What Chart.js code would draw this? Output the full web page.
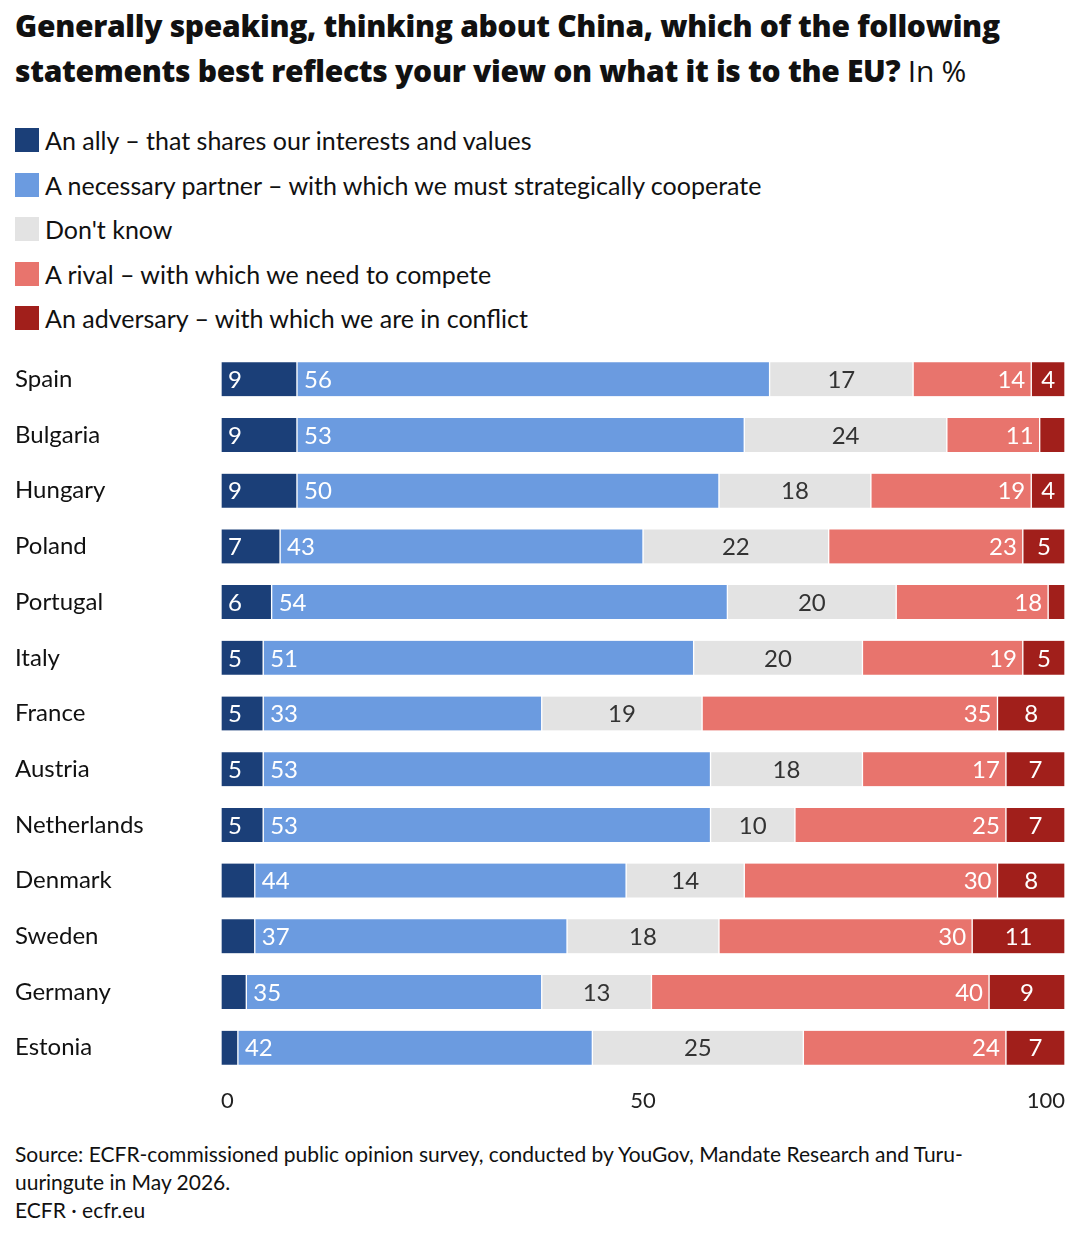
<!DOCTYPE html>
<html>
<head>
<meta charset="utf-8">
<script src="https://cdn.jsdelivr.net/npm/chart.js@4"></script>
<style>
  body { margin: 0; background: #fff; font-family: Lato, "Open Sans", sans-serif; color: #111; }
  .wrap { width: 1080px; height: 1247px; position: relative; }
  h1 { margin: 0; position: absolute; left: 15px; top: 3px; width: 1060px; font-family: "Open Sans", sans-serif; font-weight: 800; font-size: 30px; line-height: 45px; letter-spacing: -0.3px; }
  h1 span { font-weight: 400; }
  .legend { position: absolute; left: 15px; top: 118px; }
  .legend div { height: 44.5px; display: flex; align-items: center; font-size: 25px; }
  .legend i { display: inline-block; width: 24px; height: 24px; margin-right: 6px; }
  .chart { position: absolute; left: 0; top: 334px; width: 1080px; height: 792px; }
  .src { position: absolute; left: 15px; top: 1140px; font-size: 21px; line-height: 28px; width: 1000px; }
</style>
</head>
<body>
<div class="wrap">
  <h1>Generally speaking, thinking about China, which of the following statements best reflects your view on what it is to the EU? <span>In %</span></h1>
  <div class="legend" id="legend"></div>
  <div class="chart"><canvas id="c"></canvas></div>
  <div class="src">Source: ECFR-commissioned public opinion survey, conducted by YouGov, Mandate Research and Turu-uuringute in May 2026.<br>ECFR · ecfr.eu</div>
</div>
<script>
const countries = ['Spain', 'Bulgaria', 'Hungary', 'Poland', 'Portugal', 'Italy', 'France', 'Austria', 'Netherlands', 'Denmark', 'Sweden', 'Germany', 'Estonia'];
const ally = [9, 9, 9, 7, 6, 5, 5, 5, 5, 4, 4, 3, 2];
const partner = [56, 53, 50, 43, 54, 51, 33, 53, 53, 44, 37, 35, 42];
const dontKnow = [17, 24, 18, 22, 20, 20, 19, 18, 10, 14, 18, 13, 25];
const rival = [14, 11, 19, 23, 18, 19, 35, 17, 25, 30, 30, 40, 24];
const adversary = [4, 3, 4, 5, 2, 5, 8, 7, 7, 8, 11, 9, 7];
const xTicks = [0, 50, 100];

const seriesNames = ['An ally – that shares our interests and values', 'A necessary partner – with which we must strategically cooperate', "Don't know", 'A rival – with which we need to compete', 'An adversary – with which we are in conflict'];
const seriesColors = ['#1b3f78', '#6b9be0', '#e3e3e3', '#e8746d', '#a11f1b'];
const labelColors = ['#fff', '#fff', '#333', '#fff', '#fff'];
const labelAlign = ['left', 'left', 'center', 'right', 'center'];
const minLabel = [5, 4, 4, 4, 4];
const seriesData = [ally, partner, dontKnow, rival, adversary];

document.getElementById('legend').innerHTML = seriesNames.map((n, i) =>
  `<div><i style="background:${seriesColors[i]}"></i>${n}</div>`).join('');

const segLabels = {
  id: 'segLabels',
  afterDatasetsDraw(chart) {
    const ctx = chart.ctx;
    ctx.save();
    ctx.font = '24px Lato, "Open Sans", sans-serif';
    ctx.textBaseline = 'middle';
    chart.data.datasets.forEach((ds, di) => {
      chart.getDatasetMeta(di).data.forEach((bar, i) => {
        const v = ds.data[i];
        if (v < minLabel[di]) return;
        ctx.fillStyle = labelColors[di];
        ctx.textAlign = labelAlign[di];
        let x = (bar.x + bar.base) / 2;
        if (labelAlign[di] === 'left') x = bar.base + 7;
        if (labelAlign[di] === 'right') x = bar.x - 6;
        ctx.fillText(v, x, bar.y + 1);
      });
    });
    ctx.restore();
  }
};

new Chart(document.getElementById('c'), {
  type: 'bar',
  data: {
    labels: countries,
    datasets: seriesData.map((d, i) => ({
      label: seriesNames[i],
      data: d,
      backgroundColor: seriesColors[i],
      borderColor: '#fff',
      borderWidth: { left: 1, right: 1 },
      borderSkipped: false,
      barThickness: 34
    }))
  },
  options: {
    indexAxis: 'y',
    responsive: true,
    maintainAspectRatio: false,
    animation: false,
    layout: { padding: { left: 15, right: 15, top: 0, bottom: 0 } },
    plugins: { legend: { display: false }, tooltip: { enabled: false } },
    scales: {
      x: {
        stacked: true, min: 0, max: 100,
        grid: { display: false, drawTicks: false },
        border: { display: false },
        afterBuildTicks: (axis) => { axis.ticks = xTicks.map(v => ({ value: v })); },
        ticks: { color: '#222', align: 'inner', font: { size: 22, family: 'Lato, "Open Sans", sans-serif' }, padding: 12 }
      },
      y: {
        stacked: true,
        grid: { display: false },
        border: { display: false },
        afterFit: (axis) => { axis.width = 206; },
        ticks: { color: '#111', crossAlign: 'far', font: { size: 24, family: 'Lato, "Open Sans", sans-serif' } }
      }
    }
  },
  plugins: [segLabels]
});
</script>
</body>
</html>
